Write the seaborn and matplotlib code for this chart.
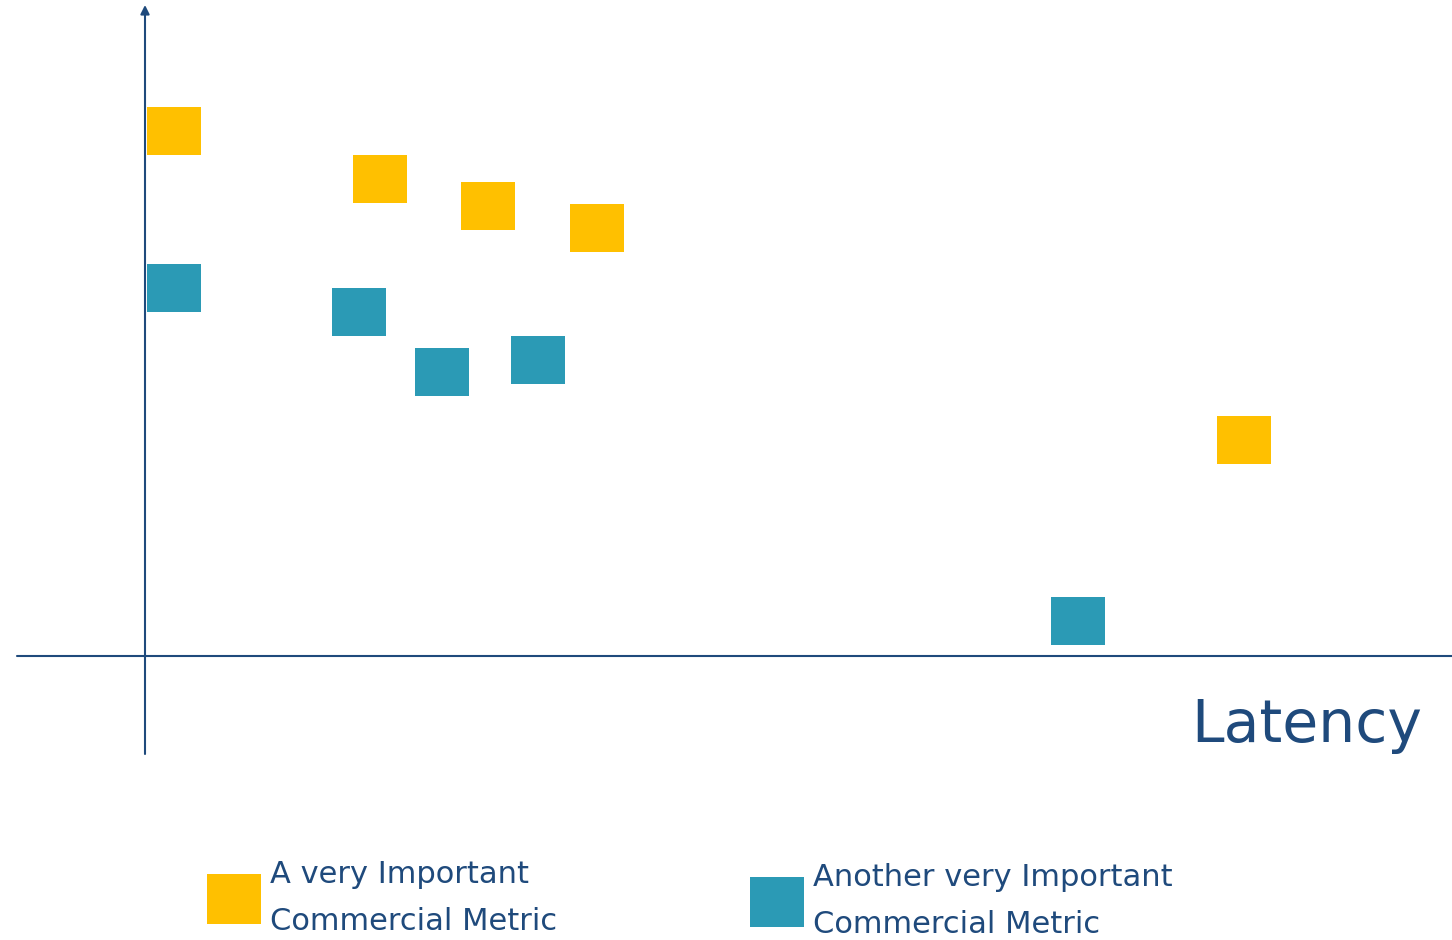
import pandas as pd
import seaborn as sns
import matplotlib.pyplot as plt
from matplotlib.lines import Line2D

# data (arbitrary units, origin at the axes cross)
series_names = ["A very Important\nCommercial Metric", "Another very Important\nCommercial Metric"]
metric_a_x = [2.9, 23.5, 34.3, 45.2, 109.9]
metric_a_y = [52.5, 47.7, 45.0, 42.8, 21.6]
metric_b_x = [2.9, 21.4, 29.7, 39.3, 93.3]
metric_b_y = [36.8, 34.4, 28.4, 29.6, 3.5]
x_label = "Latency"

colors = ["#FFC000", "#2B9AB5"]
axis_color = "#1F4A7C"

df = pd.DataFrame({
    "latency": metric_a_x + metric_b_x,
    "value": metric_a_y + metric_b_y,
    "metric": [series_names[0]] * len(metric_a_x) + [series_names[1]] * len(metric_b_x),
})

sns.set_theme(style="white")
plt.rcParams["font.family"] = ["DejaVu Sans"]

fig = plt.figure(figsize=(14.52, 9.40), dpi=100)
ax = fig.add_axes([0, 0, 1, 1])
ax.set_xlim(-14.5, 130.7)
ax.set_ylim(-28.4, 65.6)
ax.set_axis_off()

# rectangle marker, a bit wider than tall
rect = [(-1, -0.907), (1, -0.907), (1, 0.907), (-1, 0.907), (-1, -0.907)]

sns.scatterplot(data=df, x="latency", y="value", hue="metric",
                palette=dict(zip(series_names, colors)),
                marker=rect, s=1512, linewidth=0, legend=False, ax=ax, zorder=3)

# axes cross
ax.plot([-12.8, 130.7], [0, 0], color=axis_color, lw=1.5, zorder=2)
ax.annotate("", xy=(0, 65.1), xytext=(0, -9.8),
            arrowprops=dict(arrowstyle="-|>", color=axis_color, lw=1.5,
                            mutation_scale=13, shrinkA=0, shrinkB=0))

ax.text(127.7, -8.6, x_label, ha="right", va="baseline",
        fontsize=42, color=axis_color)

# two legend blocks under the plot
anchors = [(203 / 1452, 1 - 898 / 940), (746 / 1452, 1 - 901 / 940)]
for name, col, anchor in zip(series_names, colors, anchors):
    handle = Line2D([], [], linestyle="none", marker=rect, markersize=38.9,
                    markerfacecolor=col, markeredgewidth=0)
    leg = fig.legend([handle], [name], loc="center left", bbox_to_anchor=anchor,
                     frameon=False, fontsize=22, labelcolor=axis_color,
                     borderpad=0, borderaxespad=0, handlelength=2.0,
                     handletextpad=0.18)
    for t in leg.get_texts():
        t.set_linespacing(1.78)

fig.savefig("out.png", dpi=100)
